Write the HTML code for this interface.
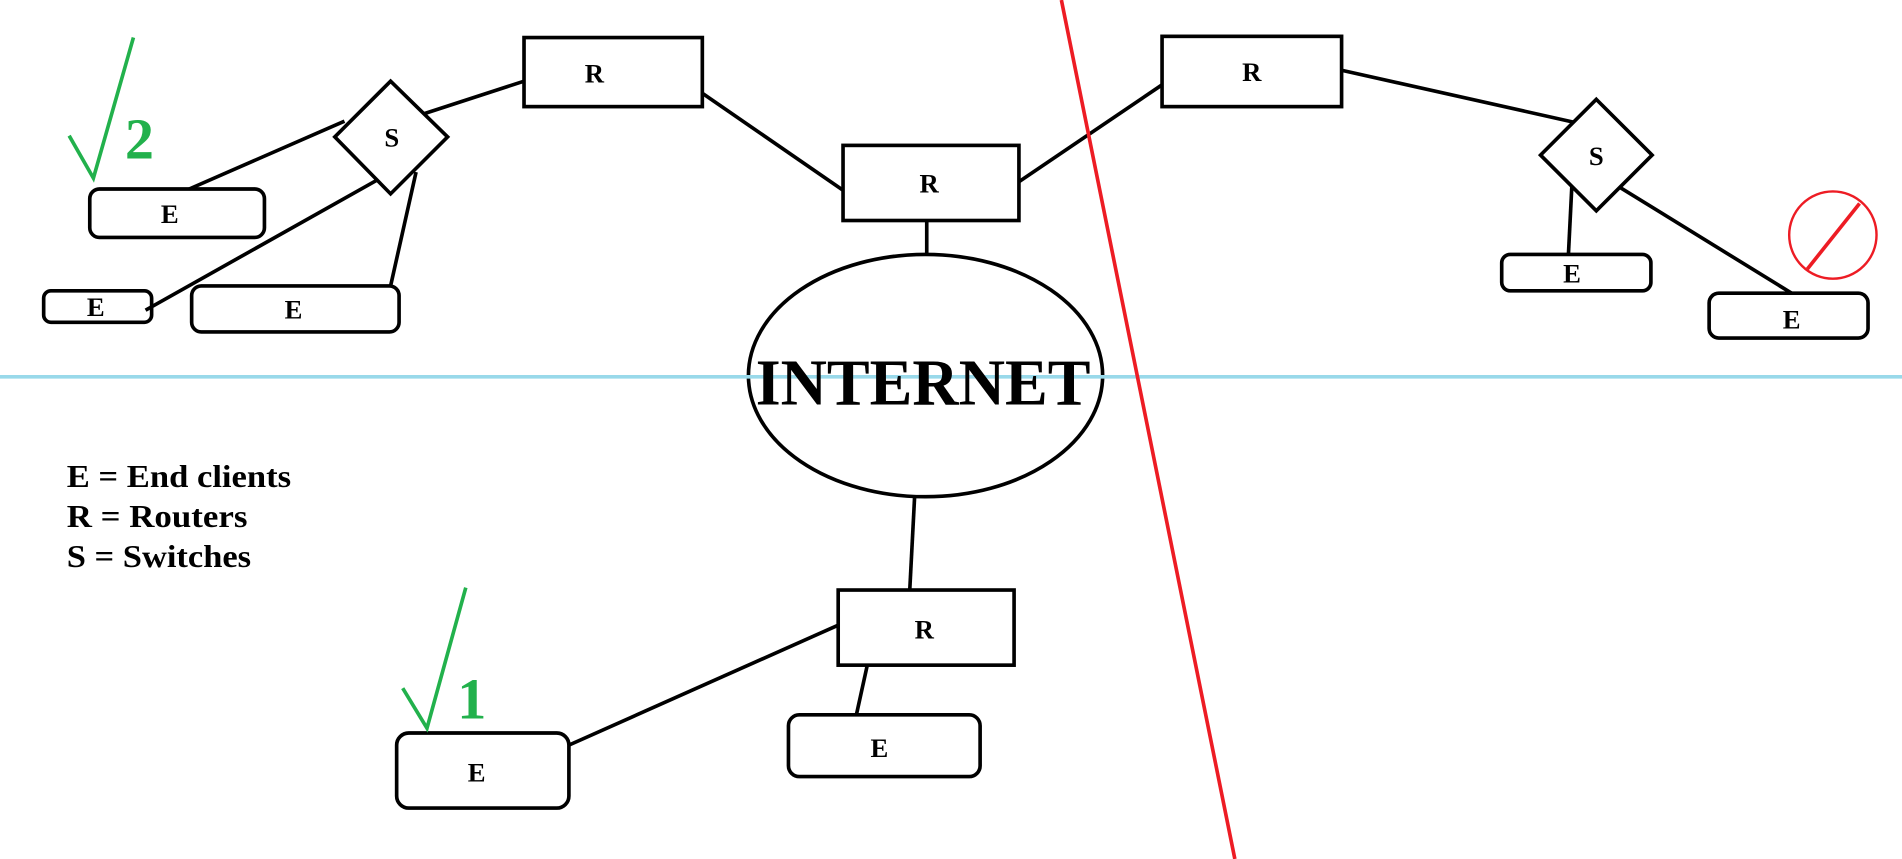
<!DOCTYPE html>
<html><head><meta charset="utf-8"><style>
html,body{margin:0;padding:0;background:#fff;width:1902px;height:859px;overflow:hidden}
svg{display:block}
text{font-family:"Liberation Serif",serif;font-weight:bold;fill:#000}
</style></head><body>
<svg width="1902" height="859" viewBox="0 0 1568 709" preserveAspectRatio="none" xmlns="http://www.w3.org/2000/svg">
<g stroke="#000" stroke-width="3" fill="none">
<line x1="346" y1="95" x2="432" y2="67"/>
<line x1="579" y1="77" x2="695" y2="157"/>
<line x1="840" y1="150" x2="958" y2="70"/>
<line x1="1106" y1="58" x2="1298" y2="101"/>
<line x1="1296" y1="150" x2="1293" y2="210"/>
<line x1="1336" y1="155" x2="1477" y2="242"/>
<line x1="764" y1="182" x2="764" y2="210"/>
<line x1="754" y1="410" x2="750" y2="487"/>
<line x1="691" y1="516" x2="469" y2="615"/>
<line x1="715" y1="549" x2="706" y2="590"/>
<line x1="284" y1="100" x2="156" y2="156"/>
<line x1="312" y1="148" x2="120" y2="256"/>
<line x1="343" y1="142" x2="322" y2="236"/>
<rect x="432" y="31" width="147" height="57"/>
<rect x="695" y="120" width="145" height="62"/>
<rect x="958" y="30" width="148" height="58"/>
<rect x="691" y="487" width="145" height="62"/>
<polygon points="322,67 369,113 322,160 276,113" fill="#fff"/>
<polygon points="1316,82 1362,128 1316,174 1270,128" fill="#fff"/>
<rect x="74" y="156" width="144" height="40" rx="8"/>
<rect x="36" y="240" width="89" height="26" rx="6"/>
<rect x="158" y="236" width="171" height="38" rx="8"/>
<rect x="1238" y="210" width="123" height="30" rx="7"/>
<rect x="1409" y="242" width="131" height="37" rx="8"/>
<rect x="327" y="605" width="142" height="62" rx="10"/>
<rect x="650" y="590" width="158" height="51" rx="9"/>
<ellipse cx="763" cy="310" rx="146" ry="100" fill="#fff"/>
</g>
<line x1="0" y1="311" x2="1568" y2="311" stroke="#99d9ea" stroke-width="3"/>
<line x1="875" y1="0" x2="1018" y2="709" stroke="#ed1c24" stroke-width="3"/>
<g font-size="22" text-anchor="middle">
<text x="490" y="68">R</text>
<text x="766" y="159">R</text>
<text x="1032" y="67">R</text>
<text x="762" y="527">R</text>
<text x="323" y="121">S</text>
<text x="1316" y="136">S</text>
<text x="140" y="184">E</text>
<text x="79" y="261">E</text>
<text x="242" y="263">E</text>
<text x="1296" y="233">E</text>
<text x="1477" y="271">E</text>
<text x="393" y="645">E</text>
<text x="725" y="625">E</text>
</g>
<text x="761" y="334" font-size="54" text-anchor="middle" textLength="276" lengthAdjust="spacingAndGlyphs">INTERNET</text>
<g font-size="26">
<text x="55" y="402" textLength="185" lengthAdjust="spacingAndGlyphs">E = End clients</text>
<text x="55" y="435" textLength="149" lengthAdjust="spacingAndGlyphs">R = Routers</text>
<text x="55" y="468" textLength="152" lengthAdjust="spacingAndGlyphs">S = Switches</text>
</g>
<g stroke="#22b14c" stroke-width="3" fill="none">
<polyline points="57,112 77,147 110,31"/>
<polyline points="332,568 352,601 384,485"/>
</g>
<text x="103" y="131" font-size="48" style="fill:#22b14c">2</text>
<text x="377" y="593" font-size="48" style="fill:#22b14c">1</text>
<circle cx="1511" cy="194" r="36" stroke="#ed1c24" stroke-width="2" fill="none"/>
<line x1="1490" y1="222" x2="1533" y2="168" stroke="#ed1c24" stroke-width="3"/>
</svg>
</body></html>
